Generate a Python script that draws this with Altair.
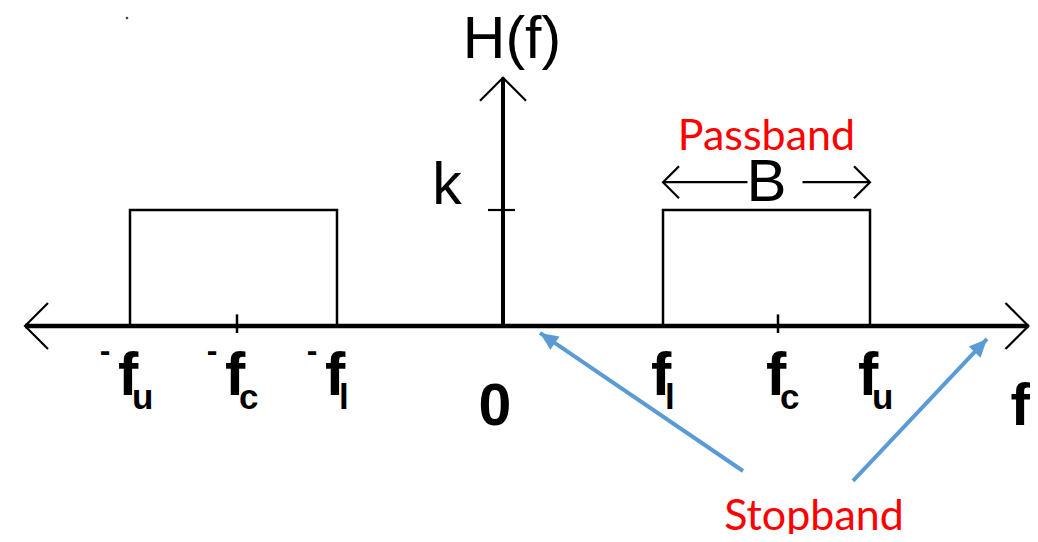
import math
import altair as alt
import pandas as pd

# ---------------- values ----------------
K = 1.0                                   # passband gain k
band_lo = [-3.73, 1.60]                   # -fu , fl
band_hi = [-1.66, 3.67]                   # -fl , fu
centre_ticks = [-2.66, 2.75]              # -fc , fc
freq_ticks = [-3.73, -2.66, -1.66, 1.60, 2.75, 3.67]
freq_main = ["f", "f", "f", "f", "f", "f"]
freq_sub = ["u", "c", "l", "l", "c", "u"]
freq_sign = ["-", "-", "-", "", "", ""]
x_axis_ends = [-4.78, 5.255]
y_axis_top = 2.14
b_arrow_y = 1.24
stop_tails_x = [2.40, 3.50]
stop_tails_y = [-1.25, -1.336]
stop_tips_x = [0.37, 4.84]
stop_tips_y = [-0.06, -0.112]
stop_label = [3.11, -1.76]
speck = [-3.76, 2.655]

# ---------------- layout / style ----------------
W, H = 1022, 526
PX_X, PX_Y = 100.0, 116.0
XDOM = [-4.95, -4.95 + W / PX_X]
Y0_PX = 318.0
YDOM = [-(H - Y0_PX) / PX_Y, Y0_PX / PX_Y]
BLACK_FONT = "Liberation Sans, Arial, sans-serif"
RED_FONT = "Lato, Open Sans, sans-serif"
BLUE = "#5B9BD5"

xs = alt.Scale(domain=XDOM, nice=False, zero=False)
ys = alt.Scale(domain=YDOM, nice=False, zero=False)


def X(f="x"):
    return alt.X(f"{f}:Q", scale=xs, axis=None)


def Y(f="y"):
    return alt.Y(f"{f}:Q", scale=ys, axis=None)


layers = []

# H(f): rectangular pulses
rows = []
for b, (lo, hi) in enumerate(zip(band_lo, band_hi)):
    for o, (xx, yy) in enumerate([(lo, 0), (lo, K), (hi, K), (hi, 0)]):
        rows.append({"x": xx, "y": yy, "band": b, "o": o})
layers.append(
    alt.Chart(pd.DataFrame(rows)).mark_line(color="black", strokeWidth=2.5, strokeJoin="miter")
    .encode(x=X(), y=Y(), detail="band:N", order="o:Q")
)

# axes
layers.append(
    alt.Chart(pd.DataFrame([{"x": x_axis_ends[0], "x2": x_axis_ends[1], "y": 0, "y2": 0}]))
    .mark_rule(color="black", strokeWidth=4.5)
    .encode(x=X(), x2="x2:Q", y=Y(), y2="y2:Q")
)
layers.append(
    alt.Chart(pd.DataFrame([{"x": 0, "x2": 0, "y": 0, "y2": y_axis_top}]))
    .mark_rule(color="black", strokeWidth=4)
    .encode(x=X(), x2="x2:Q", y=Y(), y2="y2:Q")
)

CHEV = "M-1,-1L0,0L-1,1"
layers.append(
    alt.Chart(pd.DataFrame([
        {"x": x_axis_ends[0], "y": 0, "a": 180},
        {"x": x_axis_ends[1], "y": 0, "a": 0},
        {"x": 0, "y": y_axis_top, "a": 270},
    ])).mark_point(shape=CHEV, filled=False, stroke="black", strokeWidth=2.2, size=2116, opacity=1)
    .encode(x=X(), y=Y(), angle=alt.Angle("a:Q", scale=None))
)

# ticks at +-fc and k
layers.append(
    alt.Chart(pd.DataFrame({"x": centre_ticks, "y": [-0.06] * 2, "y2": [0.10] * 2}))
    .mark_rule(color="black", strokeWidth=2.5)
    .encode(x=X(), y=Y(), y2="y2:Q")
)
layers.append(
    alt.Chart(pd.DataFrame([{"x": -0.15, "x2": 0.12, "y": K}]))
    .mark_rule(color="black", strokeWidth=2.2)
    .encode(x=X(), x2="x2:Q", y=Y())
)

# bandwidth arrows  <- B ->
bc = (band_lo[1] + band_hi[1]) / 2
layers.append(
    alt.Chart(pd.DataFrame([
        {"x": band_lo[1], "x2": bc - 0.19, "y": b_arrow_y},
        {"x": bc + 0.36, "x2": band_hi[1], "y": b_arrow_y},
    ])).mark_rule(color="black", strokeWidth=2.2)
    .encode(x=X(), x2="x2:Q", y=Y())
)
layers.append(
    alt.Chart(pd.DataFrame([
        {"x": band_lo[1], "y": b_arrow_y, "a": 180},
        {"x": band_hi[1], "y": b_arrow_y, "a": 0},
    ])).mark_point(shape=CHEV, filled=False, stroke="black", strokeWidth=2.2, size=1024, opacity=1)
    .encode(x=X(), y=Y(), angle=alt.Angle("a:Q", scale=None))
)

# stopband pointer arrows
sdf = pd.DataFrame({"x": stop_tails_x, "y": stop_tails_y, "x2": stop_tips_x, "y2": stop_tips_y})
sdf["a"] = [
    math.degrees(math.atan2((tx - sx) * PX_X, (ty - sy) * PX_Y)) % 360
    for sx, sy, tx, ty in zip(stop_tails_x, stop_tails_y, stop_tips_x, stop_tips_y)
]
layers.append(
    alt.Chart(sdf).mark_rule(color=BLUE, strokeWidth=4)
    .encode(x=X(), x2="x2:Q", y=Y(), y2="y2:Q")
)
layers.append(
    alt.Chart(sdf).mark_point(shape="M0,0L0.45,1L-0.45,1Z", filled=True, color=BLUE, size=1296, opacity=1)
    .encode(x=X("x2"), y=Y("y2"), angle=alt.Angle("a:Q", scale=None))
)

# frequency labels
fdf = pd.DataFrame({"x": freq_ticks, "y": [0] * 6, "f": freq_main, "s": freq_sub, "sg": freq_sign})
layers.append(
    alt.Chart(fdf).mark_text(align="left", baseline="alphabetic", dx=-12, dy=69,
                             fontSize=61, font=BLACK_FONT, fontWeight="bold", color="black")
    .encode(x=X(), y=Y(), text="f:N")
)
layers.append(
    alt.Chart(fdf).mark_text(align="left", baseline="alphabetic", dx=2, dy=83,
                             fontSize=35, font=BLACK_FONT, fontWeight="bold", color="black")
    .encode(x=X(), y=Y(), text="s:N")
)
layers.append(
    alt.Chart(fdf).transform_filter("datum.sg != ''")
    .mark_text(align="center", baseline="middle", dx=-25, dy=25,
               fontSize=32, font=BLACK_FONT, fontWeight="bold", color="black")
    .encode(x=X(), y=Y(), text="sg:N")
)


def label(txt, x, y, dx, dy, size, align="center", font=BLACK_FONT, color="black", weight="normal"):
    return (
        alt.Chart(pd.DataFrame([{"x": x, "y": y, "t": txt}]))
        .mark_text(align=align, baseline="alphabetic", dx=dx, dy=dy,
                   fontSize=size, font=font, color=color, fontWeight=weight)
        .encode(x=X(), y=Y(), text="t:N")
    )


layers.append(label("H(f)", 0, y_axis_top, 9, -20, 59))
layers.append(label("k", 0, K, -56, -6, 59))
layers.append(label("0", 0, 0, -8, 99, 59, weight="bold"))
layers.append(label("f", x_axis_ends[1], 0, -18, 99, 59, align="left", weight="bold"))
layers.append(label("B", bc, K, 0, -9, 60))
layers.append(label("Passband", bc, K, 0, -60, 43, font=RED_FONT, color="#FF0000"))
layers.append(label("Stopband", stop_label[0], stop_label[1], 0, 0, 43, font=RED_FONT, color="#FF0000"))

# small speck
layers.append(
    alt.Chart(pd.DataFrame([{"x": speck[0], "y": speck[1]}]))
    .mark_circle(color="#444444", size=7, opacity=1)
    .encode(x=X(), y=Y())
)

chart = (
    alt.layer(*layers)
    .properties(width=W, height=H, autosize=alt.AutoSizeParams(type="none"), padding=0,
                background="white")
    .configure_view(stroke=None)
)

chart.save("out.html", embed_options={"renderer": "svg", "actions": False})
